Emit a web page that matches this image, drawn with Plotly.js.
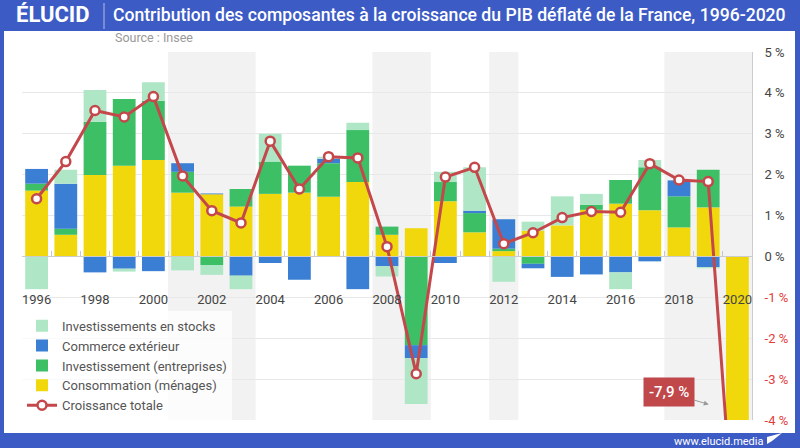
<!DOCTYPE html>
<html>
<head>
<meta charset="utf-8">
<script src="https://cdn.plot.ly/plotly-3.0.1.min.js"></script>
<style>
  html, body { margin: 0; padding: 0; width: 800px; height: 448px; overflow: hidden; background: #3d5bc5; }
  #panel { position: absolute; left: 4px; top: 31px; width: 791px; height: 402px; background: #ffffff; }
  #chart { position: absolute; left: 0; top: 0; width: 800px; height: 448px; }
</style>
</head>
<body>
<div id="panel"></div>
<div id="chart"></div>
<script>
// ---- Data ----
const years = [1996,1997,1998,1999,2000,2001,2002,2003,2004,2005,2006,2007,2008,2009,2010,2011,2012,2013,2014,2015,2016,2017,2018,2019,2020];
const tickLabels = ['1996','1998','2000','2002','2004','2006','2008','2010','2012','2014','2016','2018','2020'];
const tickYears = [1996,1998,2000,2002,2004,2006,2008,2010,2012,2014,2016,2018,2020];

const consommation = [1.61,0.53,1.99,2.22,2.36,1.56,1.52,1.22,1.53,1.56,1.46,1.82,0.53,0.69,1.35,0.59,0.13,0.63,0.76,1.14,1.29,1.13,0.71,1.20,-4.2];
const investissement = [0.17,0.15,1.30,1.63,1.45,0.51,-0.21,0.43,0.79,0.66,0.82,1.27,0.20,-2.17,0.47,0.47,0.06,-0.18,0,0.12,0.58,1.05,0.76,0.92,null];
const commerce = [0.36,1.10,-0.39,-0.30,-0.36,0.21,0.02,-0.47,-0.16,-0.57,0.11,-0.80,-0.24,-0.32,-0.16,0.06,0.72,-0.11,-0.50,-0.44,-0.39,-0.12,0.39,-0.26,null];
const stocks = [-0.80,0.34,0.78,-0.07,0.45,-0.34,-0.24,-0.33,0.68,0,0.05,0.18,-0.25,-1.12,0.25,1.06,-0.62,0.22,0.71,0.27,-0.41,0.18,0,-0.03,null];
const croissance = [1.41,2.32,3.57,3.41,3.91,1.97,1.12,0.82,2.82,1.65,2.44,2.41,0.24,-2.87,1.94,2.18,0.31,0.58,0.95,1.10,1.08,2.27,1.87,1.83,-7.9];

const yTickVals = [-4,-3,-2,-1,0,1,2,3,4,5];
const shadedPeriods = [[2001,2003],[2008,2009],[2012,2012],[2018,2020]];
const lastValueLabel = '-7,9 %';

// ---- Styles ----
const C_CONS = '#f0d80c', C_INV = '#3dbf66', C_COM = '#3a7fd4', C_STK = '#aee6c6', C_LINE = '#c4484b';
const FONT = 'Roboto, "Noto Sans", sans-serif';

function bar(name, y, color, rank) {
  return { type: 'bar', name: name, x: years, y: y, marker: { color: color, line: { width: 0 } },
           width: 0.78, legendrank: rank, hoverinfo: 'skip' };
}

const traces = [
  bar('Consommation (ménages)', consommation, C_CONS, 4),
  bar('Investissement (entreprises)', investissement, C_INV, 3),
  bar('Commerce extérieur', commerce, C_COM, 2),
  bar('Investissements en stocks', stocks, C_STK, 1),
  { type: 'scatter', mode: 'lines+markers', name: 'Croissance totale', x: years, y: croissance,
    line: { color: C_LINE, width: 3 }, legendrank: 5, cliponaxis: true,
    marker: { size: 9, color: '#ffffff', line: { color: C_LINE, width: 2.5 } } }
];

const shapes = shadedPeriods.map(p => ({
  type: 'rect', xref: 'x', yref: 'paper', x0: p[0] - 0.5, x1: p[1] + 0.5, y0: 0, y1: 1,
  fillcolor: '#f2f2f2', line: { width: 0 }, layer: 'below'
}));

const yTickText = yTickVals.map(v => v < 0 ? '<span style="color:#e23c3c">' + v + ' %</span>' : v + ' %');

const layout = {
  width: 800, height: 448,
  margin: { l: 22, r: 48, t: 52, b: 28 },
  paper_bgcolor: 'rgba(0,0,0,0)', plot_bgcolor: 'rgba(0,0,0,0)',
  barmode: 'relative',
  font: { family: FONT, color: '#444' },
  title: { text: 'Contribution des composantes à la croissance du PIB déflaté de la France, 1996-2020',
           x: 113/800, xanchor: 'left', xref: 'container', y: 1 - 15/448, yanchor: 'middle', yref: 'container',
           font: { family: FONT, size: 17.6, color: '#ffffff', weight: 500 } },
  xaxis: {
    range: [1995.5, 2020.5], anchor: 'free', position: 4/9,
    tickmode: 'array', tickvals: tickYears, ticktext: tickLabels, ticks: 'inside', ticklen: 0,
    ticklabelstandoff: 31,
    tickfont: { family: FONT, size: 13, color: '#444' },
    showline: true, linecolor: '#cccccc', linewidth: 1, showgrid: false, zeroline: false,
    minor: { ticks: 'inside', tickmode: 'linear', tick0: 1995.5, dtick: 1, ticklen: 5, tickwidth: 1, tickcolor: '#c8c8c8', showgrid: false },
    fixedrange: true
  },
  yaxis: {
    range: [-4, 5], side: 'right', tickmode: 'array', tickvals: yTickVals, ticktext: yTickText,
    tickfont: { family: FONT, size: 13, color: '#444' }, ticks: '', ticklabelstandoff: 9,
    showgrid: true, gridcolor: '#e8e8e8', gridwidth: 1, zeroline: false,
    showline: true, linecolor: '#cccccc', linewidth: 1, fixedrange: true
  },
  showlegend: true,
  legend: { x: 0, xanchor: 'left', y: 0.297, yanchor: 'top', bgcolor: 'rgba(255,255,255,0.75)',
            font: { family: FONT, size: 13, color: '#555' }, tracegroupgap: 0, itemwidth: 30 },
  shapes: shapes,
  annotations: [
    { xref: 'paper', yref: 'paper', x: (14-22)/730, y: (420-15)/368, xanchor: 'left', yanchor: 'middle',
      text: '<b>ÉLUCID</b>', showarrow: false, font: { family: FONT, size: 22, color: '#ffffff' } },
    { xref: 'paper', yref: 'paper', x: (113-22)/730, y: (420-38)/368, xanchor: 'left', yanchor: 'middle',
      text: 'Source : Insee', showarrow: false, font: { family: FONT, size: 12.5, color: '#999999' } },
    { xref: 'paper', yref: 'paper', x: (765-22)/730, y: (420-441)/368, xanchor: 'right', yanchor: 'middle',
      text: 'www.elucid.media', showarrow: false, font: { family: FONT, size: 11, color: '#ffffff' } },
    { xref: 'x', yref: 'y', x: 2019.02, y: -3.62, ax: -40, ay: -12, text: lastValueLabel,
      showarrow: true, arrowhead: 2, arrowsize: 1, arrowwidth: 1, arrowcolor: '#999999',
      bgcolor: '#c0474a', borderpad: 5, font: { family: FONT, size: 15, color: '#ffffff', weight: 500 } }
  ]
};

// header separator and bottom-right logo mark (paper coordinates)
layout.shapes.push({ type: 'line', xref: 'paper', yref: 'paper', x0: (104-22)/730, x1: (104-22)/730,
  y0: (420-3)/368, y1: (420-29)/368, line: { color: 'rgba(255,255,255,0.6)', width: 1 } });
layout.shapes.push({ type: 'path', xref: 'paper', yref: 'paper',
  path: 'M ' + ((767-22)/730) + ' ' + ((420-437)/368) + ' L ' + ((782-22)/730) + ' ' + ((420-433)/368) +
        ' L ' + ((772-22)/730) + ' ' + ((420-441)/368) + ' L ' + ((767-22)/730) + ' ' + ((420-444)/368) + ' Z',
  fillcolor: '#ffffff', line: { width: 0 } });

Plotly.newPlot('chart', traces, layout, { displayModeBar: false, staticPlot: true });
</script>
</body>
</html>
